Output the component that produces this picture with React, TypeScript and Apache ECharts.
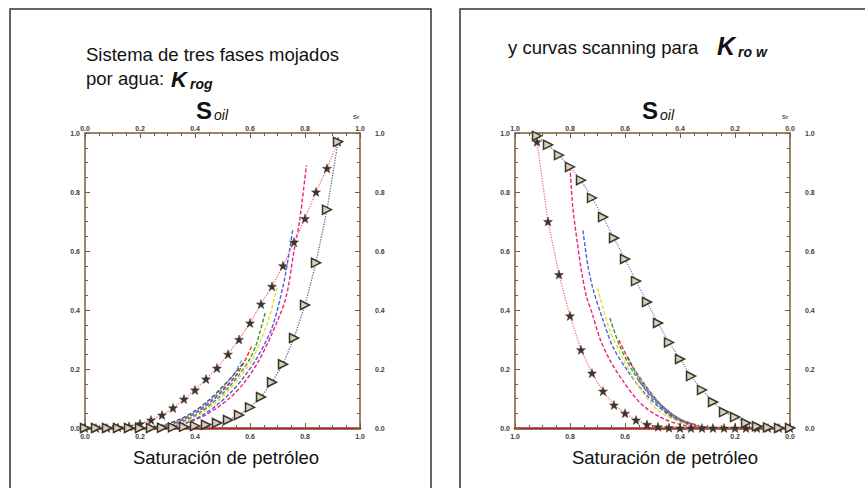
import { useEffect, useRef } from "react";
import * as echarts from "echarts";

// ---- K_rog panel (oil saturation increasing to the right) ----
const krogStarS = [0.0, 0.04, 0.08, 0.12, 0.16, 0.2, 0.24, 0.28, 0.32, 0.36, 0.4, 0.44, 0.48, 0.52, 0.56, 0.6, 0.64, 0.68, 0.72, 0.76, 0.8, 0.84, 0.88, 0.92];
const krogStarK = [0, 0, 0, 0.002, 0.006, 0.014, 0.027, 0.044, 0.068, 0.098, 0.129, 0.166, 0.203, 0.25, 0.3, 0.356, 0.42, 0.48, 0.55, 0.63, 0.71, 0.8, 0.88, 0.97];
const krogTriS = [0.0, 0.04, 0.08, 0.12, 0.16, 0.2, 0.24, 0.28, 0.32, 0.36, 0.4, 0.44, 0.48, 0.52, 0.56, 0.6, 0.64, 0.68, 0.72, 0.76, 0.8, 0.84, 0.88, 0.92];
const krogTriK = [0, 0, 0, 0, 0, 0, 0, 0.001, 0.002, 0.004, 0.007, 0.011, 0.017, 0.027, 0.044, 0.07, 0.105, 0.155, 0.216, 0.305, 0.417, 0.56, 0.74, 0.97];

const krogScanMagentaS = [0.28, 0.33, 0.38, 0.43, 0.48, 0.53, 0.58, 0.63, 0.68, 0.73, 0.76, 0.78, 0.805];
const krogScanMagentaK = [0.002, 0.008, 0.02, 0.04, 0.068, 0.105, 0.155, 0.225, 0.32, 0.44, 0.6, 0.7, 0.89];
const krogScanBlueS = [0.28, 0.33, 0.38, 0.43, 0.48, 0.53, 0.58, 0.63, 0.68, 0.72, 0.74, 0.755];
const krogScanBlueK = [0.002, 0.008, 0.022, 0.045, 0.078, 0.12, 0.175, 0.245, 0.34, 0.48, 0.58, 0.67];
const krogScanYellowS = [0.27, 0.32, 0.37, 0.42, 0.47, 0.52, 0.57, 0.61, 0.64, 0.67, 0.7];
const krogScanYellowK = [0.002, 0.009, 0.024, 0.048, 0.082, 0.125, 0.18, 0.235, 0.3, 0.375, 0.48];
const krogScanGreenS = [0.27, 0.32, 0.37, 0.42, 0.47, 0.52, 0.56, 0.6, 0.625, 0.655];
const krogScanGreenK = [0.003, 0.011, 0.028, 0.054, 0.09, 0.135, 0.18, 0.235, 0.29, 0.39];
const krogScanRedS = [0.26, 0.31, 0.36, 0.41, 0.46, 0.51, 0.55, 0.58, 0.607];
const krogScanRedK = [0.003, 0.012, 0.03, 0.056, 0.092, 0.138, 0.18, 0.225, 0.28];
const krogScanCyanS = [0.26, 0.31, 0.36, 0.41, 0.46, 0.5, 0.54, 0.57];
const krogScanCyanK = [0.004, 0.014, 0.033, 0.06, 0.097, 0.135, 0.18, 0.23];
const krogScanDarkS = [0.25, 0.3, 0.35, 0.4, 0.45, 0.5, 0.54, 0.575];
const krogScanDarkK = [0.004, 0.014, 0.032, 0.058, 0.094, 0.14, 0.18, 0.22];
const krogScanPurpleS = [0.26, 0.31, 0.36, 0.41, 0.46, 0.5, 0.53, 0.555];
const krogScanPurpleK = [0.003, 0.012, 0.03, 0.055, 0.09, 0.125, 0.155, 0.185];

// ---- K_row panel (oil saturation axis runs 1.0 -> 0.0) ----
const krowStarS = [0.92, 0.88, 0.84, 0.8, 0.76, 0.72, 0.68, 0.64, 0.6, 0.56, 0.52, 0.48, 0.44, 0.4, 0.36, 0.32, 0.28, 0.24, 0.2, 0.16, 0.12, 0.08, 0.04, 0.0];
const krowStarK = [0.97, 0.7, 0.52, 0.38, 0.265, 0.186, 0.125, 0.078, 0.05, 0.027, 0.012, 0.004, 0.001, 0, 0, 0, 0, 0, 0, 0, 0, 0, 0, 0];
const krowTriS = [0.92, 0.88, 0.84, 0.8, 0.76, 0.72, 0.68, 0.64, 0.6, 0.56, 0.52, 0.48, 0.44, 0.4, 0.36, 0.32, 0.28, 0.24, 0.2, 0.16, 0.12, 0.08, 0.04, 0.0];
const krowTriK = [0.99, 0.96, 0.925, 0.885, 0.84, 0.78, 0.715, 0.644, 0.573, 0.498, 0.427, 0.356, 0.29, 0.234, 0.176, 0.129, 0.088, 0.054, 0.037, 0.017, 0.006, 0.002, 0, 0];

const krowScanMagentaS = [0.8, 0.79, 0.775, 0.757, 0.74, 0.72, 0.69, 0.655, 0.61, 0.545, 0.473, 0.39, 0.3];
const krowScanMagentaK = [0.885, 0.75, 0.64, 0.525, 0.445, 0.39, 0.3, 0.23, 0.163, 0.085, 0.037, 0.01, 0.002];
const krowScanBlueS = [0.753, 0.735, 0.716, 0.68, 0.644, 0.593, 0.53, 0.45, 0.38, 0.3];
const krowScanBlueK = [0.67, 0.55, 0.47, 0.366, 0.275, 0.197, 0.12, 0.05, 0.015, 0.003];
const krowScanYellowS = [0.7, 0.69, 0.655, 0.61, 0.55, 0.48, 0.4, 0.32];
const krowScanYellowK = [0.475, 0.44, 0.33, 0.24, 0.14, 0.06, 0.02, 0.004];
const krowScanGreenS = [0.655, 0.62, 0.57, 0.5, 0.43, 0.36];
const krowScanGreenK = [0.373, 0.28, 0.19, 0.1, 0.04, 0.01];
const krowScanRedS = [0.622, 0.58, 0.53, 0.47, 0.4, 0.33];
const krowScanRedK = [0.298, 0.22, 0.15, 0.08, 0.03, 0.008];
const krowScanDarkS = [0.59, 0.55, 0.5, 0.44, 0.37];
const krowScanDarkK = [0.24, 0.17, 0.11, 0.05, 0.015];
const krowScanCyanS = [0.57, 0.53, 0.48, 0.42, 0.35];
const krowScanCyanK = [0.2, 0.145, 0.09, 0.04, 0.01];
const krowScanPurpleS = [0.55, 0.51, 0.46, 0.4, 0.34];
const krowScanPurpleK = [0.16, 0.115, 0.07, 0.03, 0.008];

const STAR =
  "path://M50 2 L61.8 36.2 L97.6 36.5 L69 58.1 L79.4 92.5 L50 72 L20.6 92.5 L31 58.1 L2.4 36.5 L38.2 36.2 Z";

const FONT = 'Arial, "Liberation Sans", sans-serif';
const AXIS_COLOR = "#7a5c36";
const LABEL_COLOR = "#4a4030";

const zip = (xs: number[], ys: number[]) => xs.map((x, i) => [x, ys[i]]);

function xAxis(gridIndex: number, position: "top" | "bottom", inverse: boolean) {
  const bottom = position === "bottom";
  return {
    type: "value",
    gridIndex,
    position,
    min: 0,
    max: 1,
    interval: 0.2,
    inverse,
    axisLine: {
      show: true,
      onZero: false,
      lineStyle: { color: bottom ? "#a0302a" : AXIS_COLOR, width: bottom ? 2.5 : 1.5 },
    },
    axisTick: { show: true, inside: true, length: 5, lineStyle: { color: AXIS_COLOR, width: 1 } },
    minorTick: { show: true, splitNumber: 4, length: 3, lineStyle: { color: AXIS_COLOR, width: 1 } },
    splitLine: { show: false },
    axisLabel: {
      show: true,
      margin: bottom ? 5 : 1,
      fontSize: 7,
      fontWeight: "bold",
      fontFamily: FONT,
      color: LABEL_COLOR,
      formatter: (v: number) => v.toFixed(1),
    },
  };
}

function yAxis(gridIndex: number, position: "left" | "right") {
  const left = position === "left";
  return {
    type: "value",
    gridIndex,
    position,
    min: 0,
    max: 1,
    interval: 0.2,
    axisLine: { show: true, onZero: false, lineStyle: { color: AXIS_COLOR, width: 1.5 } },
    axisTick: { show: true, inside: true, length: 5, lineStyle: { color: AXIS_COLOR, width: 1 } },
    minorTick: { show: true, splitNumber: 4, length: 3, lineStyle: { color: AXIS_COLOR, width: 1 } },
    splitLine: { show: false },
    axisLabel: {
      show: true,
      margin: left ? 5 : 15,
      fontSize: 7,
      fontWeight: "bold",
      fontFamily: FONT,
      color: LABEL_COLOR,
      formatter: (v: number) => v.toFixed(1),
    },
  };
}

function scan(xs: number[], ks: number[], color: string, axis: number) {
  return {
    type: "line",
    xAxisIndex: axis,
    yAxisIndex: axis,
    data: zip(xs, ks),
    showSymbol: false,
    smooth: 0.3,
    lineStyle: { color, width: 1.4, type: [4, 2] },
    z: 2,
  };
}

function starSeries(xs: number[], ks: number[], axis: number) {
  return {
    type: "line",
    xAxisIndex: axis,
    yAxisIndex: axis,
    data: zip(xs, ks),
    symbol: STAR,
    symbolSize: 9,
    showSymbol: true,
    lineStyle: { color: "#ff6f86", width: 1.3, type: "dotted" },
    itemStyle: { color: "#3a3628", borderColor: "#3a3628", borderWidth: 0.5 },
    z: 4,
  };
}

function triSeries(xs: number[], ks: number[], axis: number, lineColor: string) {
  return {
    type: "line",
    xAxisIndex: axis,
    yAxisIndex: axis,
    data: zip(xs, ks),
    symbol: "triangle",
    symbolRotate: -90,
    symbolSize: 9,
    showSymbol: true,
    lineStyle: { color: lineColor, width: 1.3, type: "dotted" },
    itemStyle: { color: "#d6d0bc", borderColor: "#3a3628", borderWidth: 1.5 },
    z: 4,
  };
}

function txt(x: number, y: number, text: string, fontSize: number, extra: any = {}) {
  return {
    type: "text",
    x,
    y,
    silent: true,
    style: {
      text,
      fontSize,
      fontFamily: FONT,
      fill: "#111",
      verticalAlign: "middle",
      align: "left",
      ...extra,
    },
  };
}

export default function App() {
  const ref = useRef<HTMLDivElement>(null);

  useEffect(() => {
    if (!ref.current) return;
    const chart = echarts.init(ref.current, undefined, { renderer: "svg" });
    chart.setOption({
      animation: false,
      backgroundColor: "#ffffff",
      grid: [
        { left: 85, top: 133, width: 275, height: 295, containLabel: false },
        { left: 515, top: 133, width: 275, height: 295, containLabel: false },
      ],
      xAxis: [xAxis(0, "bottom", false), xAxis(0, "top", false), xAxis(1, "bottom", true), xAxis(1, "top", true)],
      yAxis: [yAxis(0, "left"), yAxis(0, "right"), yAxis(1, "left"), yAxis(1, "right")],
      series: [
        scan(krogScanMagentaS, krogScanMagentaK, "#e8237f", 0),
        scan(krogScanBlueS, krogScanBlueK, "#4b5ee8", 0),
        scan(krogScanYellowS, krogScanYellowK, "#e6dc2a", 0),
        scan(krogScanGreenS, krogScanGreenK, "#3a9a3a", 0),
        scan(krogScanRedS, krogScanRedK, "#f0321e", 0),
        scan(krogScanCyanS, krogScanCyanK, "#3cbfe0", 0),
        scan(krogScanDarkS, krogScanDarkK, "#5a5048", 0),
        scan(krogScanPurpleS, krogScanPurpleK, "#9b4ad0", 0),
        starSeries(krogStarS, krogStarK, 0),
        triSeries(krogTriS, krogTriK, 0, "#6a6890"),

        scan(krowScanMagentaS, krowScanMagentaK, "#e8237f", 2),
        scan(krowScanBlueS, krowScanBlueK, "#4b5ee8", 2),
        scan(krowScanYellowS, krowScanYellowK, "#e6dc2a", 2),
        scan(krowScanGreenS, krowScanGreenK, "#3a9a3a", 2),
        scan(krowScanRedS, krowScanRedK, "#f0321e", 2),
        scan(krowScanDarkS, krowScanDarkK, "#5a5048", 2),
        scan(krowScanCyanS, krowScanCyanK, "#3cbfe0", 2),
        scan(krowScanPurpleS, krowScanPurpleK, "#9b4ad0", 2),
        starSeries(krowStarS, krowStarK, 2),
        triSeries(krowTriS, krowTriK, 2, "#8a80c8"),
      ],
      graphic: [
        // panel frames
        { type: "rect", shape: { x: 10, y: 9, width: 421, height: 500 }, style: { fill: "none", stroke: "#333", lineWidth: 1.5 }, silent: true },
        { type: "rect", shape: { x: 460, y: 9, width: 430, height: 500 }, style: { fill: "none", stroke: "#333", lineWidth: 1.5 }, silent: true },

        // left panel texts
        txt(86, 54, "Sistema de tres fases mojados", 18.5),
        txt(86, 78, "por agua:", 18.5),
        txt(171, 79, "K", 22, { fontWeight: "bold", fontStyle: "italic" }),
        txt(190, 84, "rog", 14, { fontWeight: "bold", fontStyle: "italic" }),
        txt(196, 110, "S", 24, { fontWeight: "bold" }),
        txt(214, 115, "oil", 14, { fontStyle: "italic" }),
        txt(353, 117, "Sr", 6, { fontWeight: "bold", fill: "#5a4a30" }),
        txt(226, 457, "Saturación de petróleo", 18.5, { align: "center" }),

        // right panel texts
        txt(508, 47, "y curvas scanning para", 18.5),
        txt(717, 46, "K", 25, { fontWeight: "bold", fontStyle: "italic" }),
        txt(738, 52, "ro w", 14, { fontWeight: "bold", fontStyle: "italic" }),
        txt(642, 110, "S", 24, { fontWeight: "bold" }),
        txt(660, 115, "oil", 14, { fontStyle: "italic" }),
        txt(782, 117, "Sr", 6, { fontWeight: "bold", fill: "#5a4a30" }),
        txt(665, 457, "Saturación de petróleo", 18.5, { align: "center" }),
      ],
    });
    return () => chart.dispose();
  }, []);

  return (
    <div
      ref={ref}
      style={{ position: "absolute", left: 0, top: 0, width: 865, height: 488, background: "#fff" }}
    />
  );
}
